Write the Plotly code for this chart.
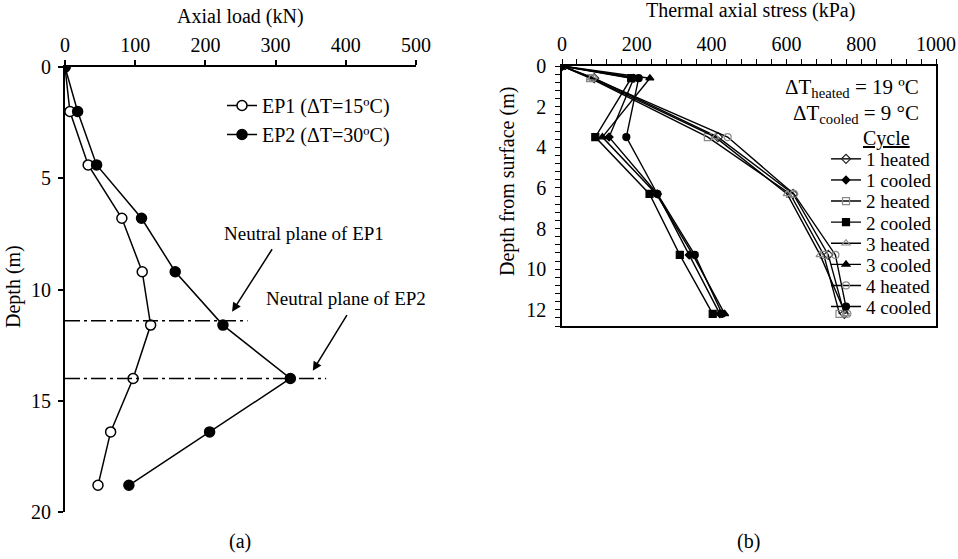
import plotly.graph_objects as go

W, H = 958, 559
FONT = "Liberation Serif, Times New Roman, serif"

# ---- (a) axial load profiles ----
depth_a = [0, 2.0, 4.4, 6.8, 9.2, 11.6, 14.0, 16.4, 18.8]
ep1_load = [0, 7, 33, 81, 110, 122, 97, 65, 47]
ep2_load = [0, 18, 45, 109, 157, 225, 321, 206, 91]
neutral_depth = [11.4, 14.0]
neutral_extent = [260, 372]

# ---- (b) thermal axial stress per cycle ----
depth_b = [0, 0.6, 3.5, 6.3, 9.3, 12.2]
cycles = ["1 heated", "1 cooled", "2 heated", "2 cooled",
          "3 heated", "3 cooled", "4 heated", "4 cooled"]
stress = {
    "1 heated": [0, 86, 417, 618, 712, 755],
    "1 cooled": [0, 192, 126, 255, 340, 422],
    "2 heated": [0, 75, 390, 610, 700, 742],
    "2 cooled": [0, 185, 89, 234, 315, 403],
    "3 heated": [0, 78, 410, 602, 690, 758],
    "3 cooled": [0, 235, 108, 252, 350, 435],
    "4 heated": [0, 82, 443, 620, 731, 763],
    "4 cooled": [0, 205, 172, 255, 355, 428],
}
styles = {
    "1 heated": dict(symbol="diamond-open", color="#222222", size=7),
    "1 cooled": dict(symbol="diamond", color="black", size=6),
    "2 heated": dict(symbol="square-open", color="#8a8a8a", size=7),
    "2 cooled": dict(symbol="square", color="black", size=7),
    "3 heated": dict(symbol="triangle-up-open", color="#8a8a8a", size=7),
    "3 cooled": dict(symbol="triangle-up", color="black", size=7),
    "4 heated": dict(symbol="circle-open", color="#8a8a8a", size=7),
    "4 cooled": dict(symbol="circle", color="black", size=7),
}


def px_x(p):
    return p / W


def px_y(p):
    return 1 - p / H


def font(size):
    return dict(family=FONT, size=size, color="black")


fig = go.Figure()

fig.add_trace(go.Scatter(
    x=ep1_load, y=depth_a, mode="lines+markers", name="EP1 (ΔT=15ºC)",
    line=dict(color="black", width=1.5),
    marker=dict(symbol="circle", size=10, color="white",
                line=dict(color="black", width=1.5)),
    xaxis="x", yaxis="y", legend="legend"))
fig.add_trace(go.Scatter(
    x=ep2_load, y=depth_a, mode="lines+markers", name="EP2 (ΔT=30ºC)",
    line=dict(color="black", width=1.5),
    marker=dict(symbol="circle", size=10, color="black",
                line=dict(color="black", width=1.5)),
    xaxis="x", yaxis="y", legend="legend"))

legend_cfg = {}
row_y0, row_step = 159, 21.1
for i, name in enumerate(cycles):
    st = styles[name]
    lg = f"legend{i + 2}"
    fig.add_trace(go.Scatter(
        x=stress[name], y=depth_b, mode="lines+markers", name=name,
        line=dict(color="black", width=1.4),
        marker=dict(symbol=st["symbol"], size=st["size"], color=st["color"],
                    line=dict(color=st["color"], width=1.2)),
        xaxis="x2", yaxis="y2", legend=lg))
    legend_cfg[lg] = dict(
        x=px_x(826), y=px_y(row_y0 + i * row_step), xanchor="left",
        yanchor="middle", bgcolor="rgba(0,0,0,0)", borderwidth=0,
        font=font(19), itemwidth=30, tracegroupgap=0)

shapes = []
for d, ext in zip(neutral_depth, neutral_extent):
    shapes.append(dict(type="line", xref="x", yref="y", x0=0, x1=ext,
                       y0=d, y1=d,
                       line=dict(color="black", width=1.5,
                                 dash="15px,4px,3px,4px")))


def label(text, x, y, size=19, **kw):
    d = dict(text=text, x=px_x(x), y=px_y(y), xref="paper", yref="paper",
             xanchor="center", yanchor="middle", showarrow=False,
             font=font(size))
    d.update(kw)
    return d


annotations = [
    label("Axial load (kN)", 240, 17, 20),
    label("Depth (m)", 13, 287, 20, textangle=-90),
    label("Thermal axial stress (kPa)", 750, 10, 20),
    label("Depth from surface (m)", 507, 182, 20, textangle=-90),
    label("(a)", 240, 541, 20),
    label("(b)", 748, 541, 20),
    label("ΔT<sub>heated</sub> = 19 ºC", 921, 88, 21, xanchor="right"),
    label("ΔT<sub>cooled</sub> = 9 °C", 921, 114, 21, xanchor="right"),
    label("<u>Cycle</u>", 886, 138, 20),
    dict(text="Neutral plane of EP1", x=340, y=7.5, xref="x", yref="y",
         xanchor="center", yanchor="middle", showarrow=False, font=font(19)),
    dict(text="Neutral plane of EP2", x=400, y=10.4, xref="x", yref="y",
         xanchor="center", yanchor="middle", showarrow=False, font=font(19)),
    dict(x=238, y=11.0, xref="x", yref="y", ax=41, ay=-64, text="",
         showarrow=True, arrowhead=2, arrowsize=1.2, arrowwidth=1.5,
         arrowcolor="black"),
    dict(x=353, y=13.65, xref="x", yref="y", ax=35, ay=-57, text="",
         showarrow=True, arrowhead=2, arrowsize=1.2, arrowwidth=1.5,
         arrowcolor="black"),
]

common = dict(showgrid=False, zeroline=False, showline=True,
              linecolor="black", ticks="outside", tickcolor="black",
              tickfont=font(20), automargin=False)

fig.update_layout(
    template="none",
    width=W, height=H, margin=dict(l=0, r=0, t=0, b=0, autoexpand=False),
    paper_bgcolor="white", plot_bgcolor="white",
    font=font(19),
    shapes=shapes, annotations=annotations,
    legend=dict(x=px_x(222), y=px_y(86), xanchor="left", yanchor="top",
                bgcolor="rgba(0,0,0,0)", borderwidth=0, itemwidth=30,
                font=font(20), tracegroupgap=0),
    **legend_cfg,
    xaxis=dict(domain=[px_x(65), px_x(416)], range=[0, 500], dtick=100,
               side="top", anchor="y", linewidth=2, ticklen=5, tickwidth=1.5,
               **common),
    yaxis=dict(domain=[px_y(512), px_y(67)], range=[20, 0], dtick=5,
               anchor="x", linewidth=2, ticklen=5, tickwidth=1.5,
               ticklabelstandoff=3, **common),
    xaxis2=dict(domain=[px_x(562), px_x(936)], range=[0, 1000], dtick=200,
                side="top", anchor="y2", linewidth=1.5, mirror=True,
                ticklen=5, tickwidth=1,
                minor=dict(dtick=40, ticks="outside", ticklen=5,
                           tickcolor="black", tickwidth=1),
                **common),
    yaxis2=dict(domain=[px_y(326), px_y(66)], range=[12.8, 0], dtick=2,
                anchor="x2", linewidth=1.5, mirror=True, ticklen=5,
                tickwidth=1, ticklabelstandoff=5,
                minor=dict(dtick=0.4, ticks="outside", ticklen=5,
                           tickcolor="black", tickwidth=1),
                **common),
)

fig.write_html("out.html")
